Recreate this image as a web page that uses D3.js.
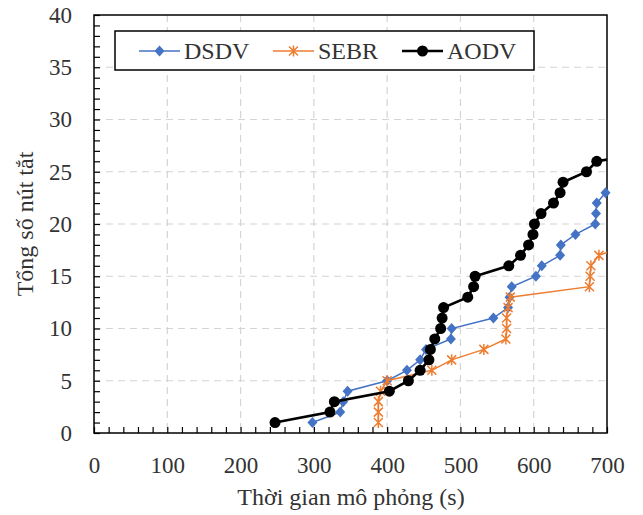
<!DOCTYPE html>
<html>
<head>
<meta charset="utf-8">
<script src="https://cdn.jsdelivr.net/npm/d3@7"></script>
<style>
  body { margin: 0; background: #fff; }
  text { font-family: "Liberation Serif", "Times New Roman", serif; fill: #333; }
</style>
</head>
<body>
<div id="chart"></div>
<script>
// Thời gian (s) / tổng số nút tắt
var dsdvTime  = [298, 336, 340, 346, 400, 427, 445, 453, 487, 488, 545, 565, 567, 570, 603, 611, 636, 637, 657, 684, 685, 686, 698];
var dsdvNodes = [1, 2, 3, 4, 5, 6, 7, 8, 9, 10, 11, 12, 13, 14, 15, 16, 17, 18, 19, 20, 21, 22, 23];

var sebrTime  = [388, 388, 388, 391, 400, 461, 488, 532, 562, 563, 563, 565, 568, 676, 677, 678, 689, 712];
var sebrNodes = [1, 2, 3, 4, 5, 6, 7, 8, 9, 10, 11, 12, 13, 14, 15, 16, 17, 17.6];

var aodvTime  = [247, 322, 328, 403, 429, 445, 457, 459, 465, 473, 475, 477, 510, 518, 520, 566, 582, 593, 599, 601, 610, 627, 636, 640, 672, 686, 712];
var aodvNodes = [1, 2, 3, 4, 5, 6, 7, 8, 9, 10, 11, 12, 13, 14, 15, 16, 17, 18, 19, 20, 21, 22, 23, 24, 25, 26, 26.3];

var seriesNames = ["DSDV", "SEBR", "AODV"];
var xTicks = [0, 100, 200, 300, 400, 500, 600, 700];
var yTicks = [0, 5, 10, 15, 20, 25, 30, 35, 40];

var width = 643, height = 515;
var margins = {top: 15, right: 36, bottom: 82, left: 94};
var innerW = width - margins.left - margins.right;
var innerH = height - margins.top - margins.bottom;

var svg = d3.select("#chart").append("svg")
    .attr("width", width)
    .attr("height", height);

var main = svg.append("g")
    .attr("transform", "translate(" + margins.left + "," + margins.top + ")");

/* Scales */
var x = d3.scaleLinear().domain([0, 700]).range([0, innerW]);
var y = d3.scaleLinear().domain([0, 40]).range([innerH, 0]);

/* Grid */
main.append("g")
    .selectAll("line.vgrid")
    .data(xTicks.slice(1, -1))
    .enter().append("line")
        .attr("x1", function(d) { return x(d); })
        .attr("x2", function(d) { return x(d); })
        .attr("y1", 0).attr("y2", innerH)
        .attr("stroke", "#d4d4d4").attr("stroke-width", 1.2)
        .attr("stroke-dasharray", "7,5");
main.append("g")
    .selectAll("line.hgrid")
    .data(yTicks.slice(1, -1))
    .enter().append("line")
        .attr("x1", 0).attr("x2", innerW)
        .attr("y1", function(d) { return y(d); })
        .attr("y2", function(d) { return y(d); })
        .attr("stroke", "#d4d4d4").attr("stroke-width", 1.2)
        .attr("stroke-dasharray", "7,5");

/* Axes */
var xAxis = main.append("g")
    .attr("transform", "translate(0," + innerH + ")")
    .call(d3.axisBottom(x).tickValues(xTicks).tickSize(0).tickPadding(24).tickFormat(d3.format("d")));
var xMinor = main.append("g")
    .attr("transform", "translate(0," + innerH + ")")
    .call(d3.axisBottom(x).tickValues(d3.range(0, 701, 20)).tickSize(-6).tickFormat(""));
var yAxis = main.append("g")
    .call(d3.axisLeft(y).tickValues(yTicks).tickSize(0).tickPadding(22).tickFormat(d3.format("d")));
var yMinor = main.append("g")
    .call(d3.axisLeft(y).tickValues(d3.range(0, 41, 1)).tickSize(-6).tickFormat(""));

[xAxis, yAxis, xMinor, yMinor].forEach(function(a) {
    a.select(".domain").remove();
    a.selectAll("line").attr("stroke", "#000").attr("stroke-width", 1.2);
    a.selectAll("text").style("font-size", "23px").attr("fill", "#333");
});

/* Frame */
main.append("rect")
    .attr("width", innerW).attr("height", innerH)
    .attr("fill", "none").attr("stroke", "#000").attr("stroke-width", 1.5);

/* Titles */
svg.append("text")
    .attr("x", 351)
    .attr("y", 505)
    .attr("text-anchor", "middle")
    .style("font-size", "24px")
    .text("Thời gian mô phỏng (s)");
svg.append("text")
    .attr("transform", "translate(33," + (margins.top + innerH / 2) + ") rotate(-90)")
    .attr("text-anchor", "middle")
    .style("font-size", "24px")
    .text("Tổng số nút tắt");

/* Series */
var clip = svg.append("clipPath").attr("id", "plotClip")
    .append("rect").attr("width", innerW).attr("height", innerH);

var diamond = "M0,-5.5L5,0L0,5.5L-5,0Z";
var star = "M-4.5,-4.5L4.5,4.5M-4.5,4.5L4.5,-4.5M0,-5.5L0,5.5";

var series = [
    {name: seriesNames[0], xs: dsdvTime, ys: dsdvNodes, color: "#4472C4", lw: 1.5, marker: "diamond"},
    {name: seriesNames[1], xs: sebrTime, ys: sebrNodes, color: "#ED7D31", lw: 1.5, marker: "star"},
    {name: seriesNames[2], xs: aodvTime, ys: aodvNodes, color: "#000000", lw: 2.6, marker: "circle"}
];

var line = d3.line()
    .x(function(d) { return x(d[0]); })
    .y(function(d) { return y(d[1]); });

function drawMarker(g, s) {
    if (s.marker === "circle") {
        g.append("circle").attr("r", 5.5).attr("fill", s.color);
    } else if (s.marker === "diamond") {
        g.append("path").attr("d", diamond).attr("fill", s.color);
    } else {
        g.append("path").attr("d", star).attr("fill", "none")
            .attr("stroke", s.color).attr("stroke-width", 1.5);
    }
}

series.forEach(function(s) {
    var pts = s.xs.map(function(v, i) { return [v, s.ys[i]]; });
    var g = main.append("g");
    g.append("path")
        .datum(pts)
        .attr("clip-path", "url(#plotClip)")
        .attr("d", line)
        .attr("fill", "none")
        .attr("stroke", s.color)
        .attr("stroke-width", s.lw);
    g.selectAll("g.mk")
        .data(pts.filter(function(d) { return d[0] <= 700; }))
        .enter().append("g")
            .attr("transform", function(d) { return "translate(" + x(d[0]) + "," + y(d[1]) + ")"; })
            .each(function() { drawMarker(d3.select(this), s); });
});

/* Legend */
var legend = svg.append("g").attr("transform", "translate(115,31)");
legend.append("rect")
    .attr("width", 419).attr("height", 39)
    .attr("fill", "#fff").attr("stroke", "#000").attr("stroke-width", 1.5);
var legendX = [24, 158, 287];
series.forEach(function(s, i) {
    var lg = legend.append("g").attr("transform", "translate(" + legendX[i] + ",20)");
    lg.append("line").attr("x1", 0).attr("x2", 41)
        .attr("stroke", s.color).attr("stroke-width", s.lw);
    var m = lg.append("g").attr("transform", "translate(20.5,0)");
    drawMarker(m, s);
    lg.append("text")
        .attr("x", 45).attr("y", 0).attr("dy", "0.35em")
        .style("font-size", "24px")
        .text(s.name);
});
</script>
</body>
</html>
